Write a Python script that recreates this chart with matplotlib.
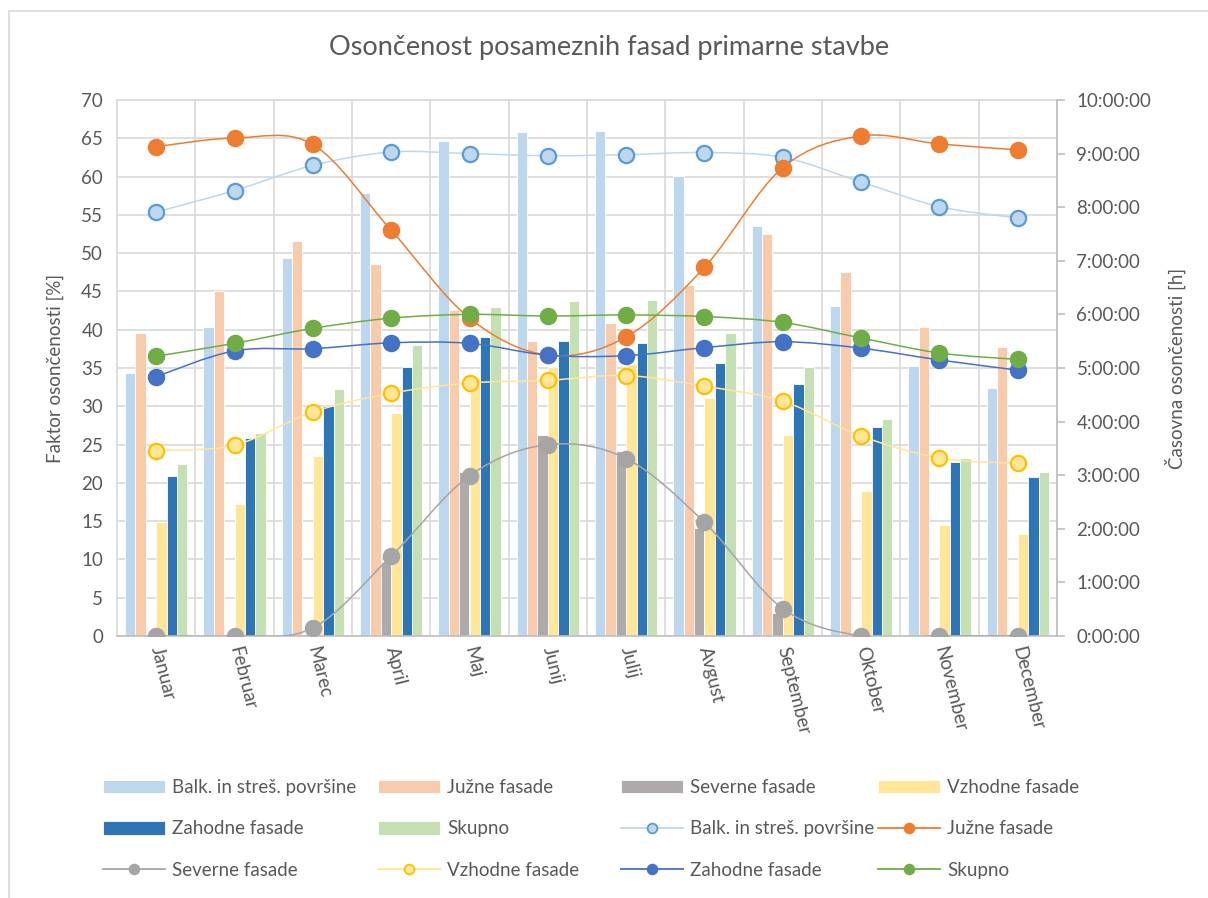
import matplotlib.pyplot as plt
import numpy as np
from matplotlib.path import Path
from matplotlib.patches import PathPatch, Rectangle
from matplotlib.lines import Line2D
from matplotlib.ticker import FuncFormatter, MultipleLocator

plt.rcParams['font.family'] = ['Lato', 'DejaVu Sans']

months = ["Januar", "Februar", "Marec", "April", "Maj", "Junij",
          "Julij", "Avgust", "September", "Oktober", "November", "December"]
series = ["Balk. in streš. površine", "Južne fasade", "Severne fasade",
          "Vzhodne fasade", "Zahodne fasade", "Skupno"]

# faktor osončenosti [%]
factor_balk = [34.3, 40.4, 49.4, 57.9, 64.6, 65.8, 65.9, 60.1, 53.5, 43.1, 35.2, 32.4]
factor_juzne = [39.6, 45.1, 51.6, 48.6, 42.6, 38.5, 40.9, 45.8, 52.5, 47.6, 40.3, 37.7]
factor_severne = [0.0, 0.0, 0.3, 9.6, 21.4, 26.2, 24.2, 14.1, 3.0, 0.0, 0.0, 0.0]
factor_vzhodne = [14.9, 17.3, 23.5, 29.1, 33.8, 35.1, 35.5, 31.1, 26.3, 18.9, 14.5, 13.3]
factor_zahodne = [20.9, 25.8, 30.1, 35.1, 39.1, 38.5, 38.3, 35.7, 32.9, 27.3, 22.7, 20.7]
factor_skupno = [22.5, 26.5, 32.3, 38.0, 43.0, 43.8, 43.9, 39.6, 35.1, 28.4, 23.2, 21.4]

# časovna osončenost [h]
hours_balk = [7.91, 8.31, 8.78, 9.03, 9.00, 8.96, 8.98, 9.02, 8.93, 8.47, 8.01, 7.80]
hours_juzne = [9.13, 9.29, 9.17, 7.57, 5.93, 5.24, 5.58, 6.88, 8.74, 9.33, 9.18, 9.07]
hours_severne = [0.0, 0.0, 0.15, 1.49, 2.99, 3.57, 3.31, 2.12, 0.51, 0.0, 0.0, 0.0]
hours_vzhodne = [3.46, 3.56, 4.18, 4.53, 4.72, 4.77, 4.86, 4.66, 4.38, 3.73, 3.32, 3.22]
hours_zahodne = [4.84, 5.32, 5.36, 5.47, 5.46, 5.24, 5.23, 5.38, 5.49, 5.37, 5.15, 4.96]
hours_skupno = [5.22, 5.46, 5.74, 5.93, 6.00, 5.97, 5.99, 5.96, 5.85, 5.56, 5.28, 5.16]

factors = [factor_balk, factor_juzne, factor_severne, factor_vzhodne, factor_zahodne, factor_skupno]
hours = [hours_balk, hours_juzne, hours_severne, hours_vzhodne, hours_zahodne, hours_skupno]

bar_colors = ["#BDD7EE", "#F8CBAD", "#AEAAAA", "#FFE699", "#2E75B6", "#C5E0B4"]
line_colors = ["#BDD7EE", "#ED7D31", "#A5A5A5", "#FFE699", "#4472C4", "#70AD47"]
marker_faces = ["#BDD7EE", "#ED7D31", "#A5A5A5", "#FFE699", "#4472C4", "#70AD47"]
marker_edges = ["#5B9BD5", "#ED7D31", "#A5A5A5", "#FFC000", "#4472C4", "#70AD47"]

text_col = "#595959"
grid_col = "#D9D9D9"


def smooth_path(x, y):
    # cubic bezier through the points (catmull-rom tangents)
    pts = np.column_stack([x, y]).astype(float)
    padded = np.vstack([pts[0], pts, pts[-1]])
    verts = [pts[0]]
    codes = [Path.MOVETO]
    for i in range(len(pts) - 1):
        p0, p1, p2, p3 = padded[i], padded[i + 1], padded[i + 2], padded[i + 3]
        verts += [p1 + (p2 - p0) / 6, p2 - (p3 - p1) / 6, p2]
        codes += [Path.CURVE4] * 3
    return Path(verts, codes)


fig = plt.figure(figsize=(12.08, 8.98), dpi=100)
fig.patches.append(Rectangle((9 / 1208, -0.01), 1.1, 1 - 11 / 898 + 0.01,
                             transform=fig.transFigure, fill=False,
                             edgecolor=grid_col, lw=1.2))

ax = fig.add_axes([117 / 1208, 1 - 636 / 898, 940 / 1208, 536 / 898])
ax2 = ax.twinx()

x = np.arange(len(months))
w = 0.132
bar_handles = []
for i, (vals, col) in enumerate(zip(factors, bar_colors)):
    b = ax.bar(x + (i - 2.5) * w, vals, w, color=col, edgecolor="white",
               linewidth=0.6, zorder=2)
    bar_handles.append(b)

ax.set_xlim(-0.5, len(months) - 0.5)
ax.set_ylim(0, 70)
ax.yaxis.set_major_locator(MultipleLocator(5))
ax.set_xticks(x)
ax.set_xticks(x[:-1] + 0.5, minor=True)
ax.grid(axis="y", color=grid_col, lw=1.2, zorder=0)
ax.grid(axis="x", which="minor", color=grid_col, lw=1.2, zorder=0)
ax.set_axisbelow(True)
ax.tick_params(axis="both", which="both", length=0, colors=text_col, labelsize=13.5)
ax.tick_params(axis="y", pad=10)
ax.set_xticklabels(months, rotation=-76, ha="left", va="center",
                   rotation_mode="anchor")
ax.tick_params(axis="x", pad=8)
for s in ax.spines.values():
    s.set_color(grid_col)
    s.set_linewidth(1.2)
ax.spines["bottom"].set_color("#BFBFBF")
ax.set_ylabel("Faktor osončenosti [%]", color=text_col, fontsize=13.5, labelpad=12)

line_handles = []
for i, vals in enumerate(hours):
    ax2.add_patch(PathPatch(smooth_path(x, vals), fill=False,
                            edgecolor=line_colors[i], lw=1.1, zorder=3))
    ax2.plot(x, vals, ls="none", marker="o", ms=11, mfc=marker_faces[i],
             mec=marker_edges[i], mew=1.6, zorder=4)
    line_handles.append(Line2D([], [], color=line_colors[i], lw=1.3, marker="o",
                               ms=7, mfc=marker_faces[i], mec=marker_edges[i],
                               mew=1.3))

ax2.set_ylim(0, 10)
ax2.yaxis.set_major_locator(MultipleLocator(1))
ax2.yaxis.set_major_formatter(FuncFormatter(lambda v, p: f"{int(round(v))}:00:00"))
ax2.tick_params(axis="y", length=6, width=1.2, color="#BFBFBF", colors=text_col,
                labelsize=13.5, pad=8)
ax2.tick_params(axis="y", color="#BFBFBF")
for s in ax2.spines.values():
    s.set_visible(False)
ax2.spines["right"].set_visible(True)
ax2.spines["right"].set_color("#BFBFBF")
ax2.spines["right"].set_linewidth(1.2)
ax2.set_ylabel("Časovna osončenosti [h]", color=text_col, fontsize=13.5, labelpad=10)

fig.text(0.5 + 5 / 1208, 1 - 48 / 898, "Osončenost posameznih fasad primarne stavbe",
         ha="center", va="center", fontsize=19.5, color=text_col)

# legend: 3 rows x 4 columns, filled row by row
entries = list(zip(bar_handles, series)) + list(zip(line_handles, series))
col_x = [103, 378, 621, 878]
for c in range(4):
    items = [entries[r * 4 + c] for r in range(3)]
    leg = fig.legend([h for h, _ in items], [l for _, l in items],
                     loc="upper left", bbox_to_anchor=(col_x[c] / 1208, 1 - 779 / 898),
                     frameon=False, fontsize=13.5, handlelength=3.3,
                     handleheight=0.75, handletextpad=0.4, labelspacing=1.3,
                     borderpad=0, borderaxespad=0, numpoints=1)
    for t in leg.get_texts():
        t.set_color(text_col)

fig.savefig("out.png", dpi=100)
